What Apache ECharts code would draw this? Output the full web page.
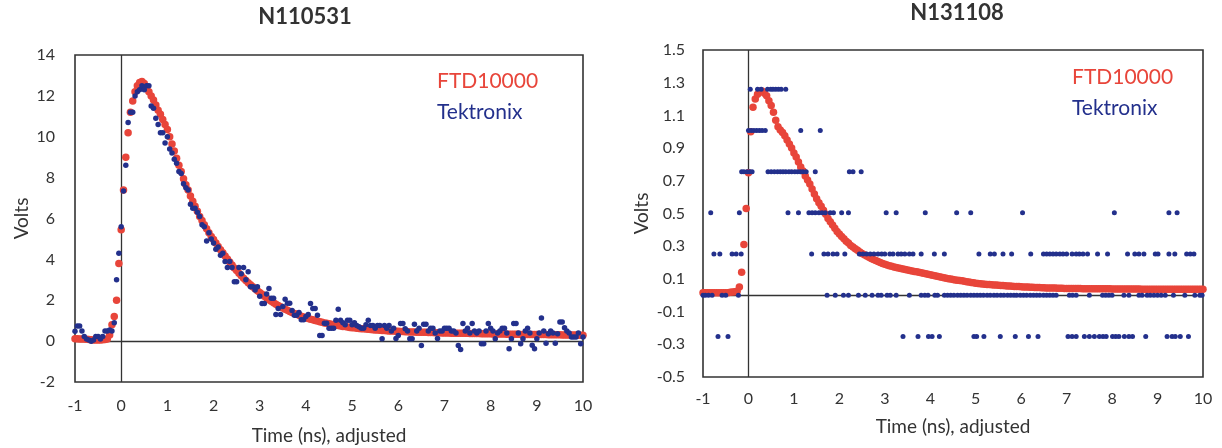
<!DOCTYPE html>
<html><head><meta charset="utf-8">
<script src="https://cdn.jsdelivr.net/npm/echarts@6/dist/echarts.min.js"></script>
<style>html,body{margin:0;padding:0;background:#fff}#c{width:1222px;height:448px}</style>
</head><body><div id="c"></div>
<script>
// ---------- DATA ----------
const seriesNames = ['FTD10000', 'Tektronix'];
const panelTitles = ['N110531', 'N131108'];
const xAxisName = 'Time (ns), adjusted';
const yAxisName = 'Volts';

// sampling grid (ns) for the panel-1 traces and the panel-2 FTD trace
const T_START = -1, T_STEP = 0.05;

// Panel 1 (N110531) FTD10000, volts, one value per 0.05 ns from -1 to 10
const ftd1 = [
 0.12,0.12,0.11,0.1,0.1,0.09,0.08,0.07,0.06,0.05,
 0.05,0.06,0.07,0.08,0.1,0.3,
 0.8,1.2,2.0,3.8,5.45,7.4,9.0,10.2,11.2,11.75,12.2,12.5,12.65,12.7,12.6,12.4,12.2,12.0,11.8,11.55,11.3,11.1,10.85,10.6,10.35,
 10.0,9.65,9.3,8.95,8.6,8.3,7.95,7.65,7.4,7.1,
 6.85,6.6,6.35,6.1,5.9,5.7,5.5,5.3,5.12,4.97,
 4.8,4.63,4.47,4.32,4.17,4.02,3.87,3.72,3.58,3.45,
 3.32,3.2,3.08,2.97,2.86,2.76,2.66,2.56,2.47,2.38,
 2.29,2.2,2.11,2.03,1.95,1.88,1.81,1.74,1.68,1.62,
 1.56,1.51,1.45,1.4,1.35,1.31,1.26,1.22,1.18,1.14,
 1.11,1.07,1.04,1.01,0.98,0.95,0.92,0.89,0.87,0.85,
 0.82,0.8,0.78,0.76,0.74,0.72,0.71,0.69,0.67,0.66,
 0.65,0.63,0.62,0.61,0.6,0.59,0.58,0.57,0.56,0.55,
 0.54,0.53,0.52,0.52,0.51,0.5,0.5,0.49,0.48,0.48,
 0.47,0.47,0.46,0.46,0.45,0.45,0.45,0.44,0.44,0.43,
 0.43,0.43,0.42,0.42,0.42,0.41,0.41,0.41,0.4,0.4,
 0.4,0.4,0.39,0.39,0.39,0.39,0.38,0.38,0.38,0.38,
 0.37,0.37,0.37,0.37,0.37,0.36,0.36,0.36,0.36,0.36,
 0.35,0.35,0.35,0.35,0.35,0.35,0.34,0.34,0.34,0.34,
 0.34,0.34,0.33,0.33,0.33,0.33,0.33,0.33,0.32,0.32,
 0.32,0.32,0.32,0.32,0.31,0.31,0.31,0.31,0.31,0.31,
 0.3,0.3,0.3,0.3,0.3,0.3,0.3,0.29,0.29,0.29
];

// Panel 1 (N110531) Tektronix, volts, one value per 0.05 ns from -1 to 10
const tek1 = [
 0.48,0.74,0.74,0.49,0.23,0.1,0.05,0.0,0.05,0.23,
 0.23,0.1,0.23,0.49,0.49,0.55,
 0.5,0.9,3.0,4.3,5.6,7.35,8.6,10.7,11.2,11.2,12.0,12.2,12.3,12.5,12.3,12.5,12.5,11.5,11.4,10.9,10.6,10.2,10.2,9.7,10.0,
 9.4,9.2,8.9,8.7,8.3,8.2,7.7,7.5,7.4,6.7,
 6.5,6.5,6.3,6.1,5.7,5.6,4.9,5.3,5.0,4.8,
 4.5,4.6,4.2,4.3,3.9,3.6,3.9,3.6,2.9,2.9,
 3.6,3.3,3.6,3.0,3.4,2.66,2.66,2.5,2.66,2.2,
 1.84,1.84,2.3,2.58,2.1,2.1,1.3,1.6,1.3,1.7,
 2.05,1.85,1.85,1.5,1.27,1.27,1.4,1.05,1.05,1.2,
 1.3,1.84,1.6,1.6,1.27,0.28,0.28,0.87,0.87,0.63,
 0.63,0.63,1.02,1.56,1.02,0.9,0.8,1.02,1.02,0.8,
 0.9,0.77,0.7,0.63,0.63,0.8,1.02,0.77,0.77,0.63,
 0.77,0.77,0.12,0.77,0.63,0.77,0.5,0.63,0.13,0.28,
 0.86,0.86,0.6,0.5,0.12,0.12,0.82,0.5,0.63,-0.21,
 0.82,0.82,0.5,0.63,0.63,0.4,0.13,0.5,0.5,0.63,
 0.63,0.63,0.5,0.5,0.4,-0.21,-0.41,0.86,0.5,0.63,
 0.4,0.86,0.5,0.4,0.5,-0.13,-0.13,0.5,0.86,0.63,
 0.5,0.12,0.4,0.5,0.63,0.63,0.4,-0.37,0.12,0.86,
 0.86,0.4,-0.13,0.12,0.5,0.63,0.4,-0.2,-0.37,0.12,
 0.4,1.13,0.5,-0.1,0.36,0.5,0.4,-0.1,0.36,0.94,
 0.94,0.66,0.5,0.4,0.2,0.2,0.2,0.4,-0.13,0.2
];

// Panel 2 (N131108) FTD10000, volts, one value per 0.05 ns from -1 to 10
const ftd2 = [
 0.015,0.015,0.015,0.015,0.015,0.015,0.015,0.015,0.015,0.015,
 0.015,0.015,0.018,0.02,0.022,0.025,
 0.05,0.14,0.31,0.53,0.75,1.0,1.15,1.2,1.23,1.25,1.25,1.235,1.22,1.19,1.16,1.12,1.07,1.03,1.01,0.995,0.975,0.95,0.925,0.9,0.87,
 0.845,0.815,0.785,0.76,0.73,0.705,0.68,0.65,0.62,0.59,
 0.565,0.545,0.52,0.495,0.47,0.45,0.43,0.41,0.39,0.375,
 0.36,0.345,0.33,0.32,0.305,0.295,0.285,0.275,0.265,0.255,
 0.247,0.24,0.232,0.225,0.218,0.212,0.206,0.2,0.194,0.189,
 0.185,0.181,0.177,0.173,0.17,0.167,0.164,0.161,0.158,0.155,
 0.152,0.149,0.146,0.143,0.14,0.137,0.134,0.131,0.128,0.125,
 0.122,0.119,0.116,0.113,0.11,0.107,0.104,0.101,0.099,0.097,
 0.094,0.092,0.09,0.088,0.085,0.083,0.081,0.078,0.076,0.074,
 0.072,0.07,0.069,0.068,0.066,0.065,0.064,0.063,0.062,0.061,
 0.06,0.059,0.058,0.057,0.056,0.055,0.054,0.053,0.053,0.052,
 0.051,0.05,0.05,0.049,0.049,0.048,0.047,0.047,0.046,0.046,
 0.045,0.045,0.045,0.044,0.044,0.043,0.043,0.043,0.042,0.042,
 0.042,0.042,0.041,0.041,0.041,0.041,0.04,0.04,0.04,0.04,
 0.04,0.04,0.039,0.039,0.039,0.039,0.039,0.039,0.039,0.038,
 0.038,0.038,0.038,0.038,0.038,0.038,0.038,0.038,0.038,0.038,
 0.038,0.038,0.037,0.037,0.037,0.037,0.037,0.037,0.037,0.037,
 0.037,0.037,0.037,0.037,0.037,0.037,0.037,0.037,0.037,0.037,
 0.037,0.037,0.037,0.036,0.036,0.036,0.036,0.036,0.036,0.036
];

// Panel 2 (N131108) Tektronix: quantised volt levels and the times (ns) of the samples at each level
const tek2Levels = [-0.252, 0, 0.252, 0.504, 0.756, 1.008, 1.26];
const tek2TimesLvlM025 = [-0.67,-0.45,3.4,3.73,3.96,4.04,4.2,4.96,5.02,5.18,5.54,5.87,6.16,6.37,7.03,7.12,7.21,7.39,7.5,7.61,7.72,7.8,7.87,8.01,8.08,8.15,8.27,8.37,8.45,8.74,9.21,9.32,9.39,9.5,9.68];
const tek2TimesLvl000 = [-1.0,-0.95,-0.88,-0.8,-0.58,-0.5,-0.22,1.73,1.91,2.09,2.2,2.42,2.57,2.72,2.85,2.92,3.05,3.12,3.25,3.54,3.8,3.88,3.95,4.1,4.16,4.31,4.38,4.45,4.52,4.6,4.67,4.74,4.81,4.89,4.96,5.03,5.1,5.17,5.25,5.32,5.4,5.47,5.55,5.62,5.7,5.77,5.84,5.9,5.98,6.05,6.12,6.2,6.27,6.34,6.41,6.49,6.56,6.63,6.7,6.77,7.06,7.13,7.21,7.5,7.79,7.86,7.93,8.0,8.26,8.37,8.59,8.66,8.77,8.84,8.92,9.0,9.08,9.17,9.35,9.6,9.82,9.93,9.98];
const tek2TimesLvl025 = [-0.76,-0.63,-0.36,-0.27,-0.16,1.39,1.66,1.75,1.86,1.95,2.12,2.44,2.52,2.6,2.68,2.76,2.85,2.93,3.0,3.11,3.18,3.29,3.36,3.44,3.54,3.62,3.8,4.09,4.31,5.07,5.32,5.41,5.6,5.79,6.21,6.49,6.56,6.63,6.7,6.77,6.85,6.92,7.0,7.12,7.21,7.28,7.36,7.46,7.68,7.9,8.34,8.5,8.59,8.7,8.95,9.01,9.25,9.38,9.64,9.72,9.8];
const tek2TimesLvl050 = [-0.83,-0.2,0.87,1.1,1.33,1.4,1.47,1.55,1.62,1.69,1.8,1.87,2.05,2.2,3.03,3.25,3.89,4.58,4.89,6.03,8.05,9.25,9.43];
const tek2TimesLvl075 = [-0.15,-0.1,-0.03,0.03,0.08,0.43,0.5,0.57,0.64,0.7,0.76,0.82,0.89,0.95,1.02,1.08,1.14,1.2,1.27,1.47,2.22,2.3,2.48];
const tek2TimesLvl100 = [0.0,0.06,0.12,0.18,0.24,0.3,0.37,1.15,1.58];
const tek2TimesLvl125 = [0.04,0.2,0.28,0.42,0.49,0.54,0.6,0.66,0.72,0.82];

// axis ranges
const xRange = {min: -1, max: 10, interval: 1};
const y1Range = {min: -2, max: 14, interval: 2};
const y2Range = {min: -0.5, max: 1.5, interval: 0.2};

// ---------- BUILD ----------
function onGrid(values) {
  return values.map((v, i) => [+(T_START + i * T_STEP).toFixed(2), v]);
}
function fromLevels(levels, timeLists) {
  const out = [];
  timeLists.forEach((ts, k) => ts.forEach(t => out.push([t, levels[k]])));
  return out;
}
const tek2 = fromLevels(tek2Levels, [tek2TimesLvlM025, tek2TimesLvl000, tek2TimesLvl025, tek2TimesLvl050, tek2TimesLvl075, tek2TimesLvl100, tek2TimesLvl125]);

const RED = '#e8453a', BLUE = '#23308c', INK = '#333333', FONT = 'Lato';

function xAx(g, margin, gap) {
  return {gridIndex: g, type: 'value', min: xRange.min, max: xRange.max, interval: xRange.interval,
    name: xAxisName, nameLocation: 'middle', nameGap: gap,
    nameTextStyle: {fontFamily: FONT, fontSize: 19, color: INK},
    axisLine: {show: false, onZero: false}, axisTick: {show: false}, splitLine: {show: false},
    axisLabel: {fontFamily: FONT, fontSize: 16, color: INK, margin: margin, showMinLabel: true, showMaxLabel: true}};
}
function yAx(g, r, margin, gap, fmt) {
  return {gridIndex: g, type: 'value', min: r.min, max: r.max, interval: r.interval,
    name: yAxisName, nameLocation: 'middle', nameGap: gap,
    nameTextStyle: {fontFamily: FONT, fontSize: 19, color: INK},
    axisLine: {show: false, onZero: false}, axisTick: {show: false}, splitLine: {show: false},
    axisLabel: {fontFamily: FONT, fontSize: 16, color: INK, margin: margin, showMinLabel: true, showMaxLabel: true, formatter: fmt}};
}
function zeroLines(g) {
  return {type: 'scatter', xAxisIndex: g, yAxisIndex: g, data: [], silent: true, z: 1,
    markLine: {silent: true, z: 1, animation: false, symbol: ['none', 'none'], label: {show: false},
      lineStyle: {color: INK, width: 1.3, type: 'solid'}, emphasis: {disabled: true},
      data: [{xAxis: 0}, {yAxis: 0}]}};
}
function dots(g, name, data, color, size, z) {
  return {type: 'scatter', name: name, xAxisIndex: g, yAxisIndex: g, data: data, symbol: 'circle',
    symbolSize: size, itemStyle: {color: color, opacity: 1}, z: z, silent: true, animation: false};
}
function legendAt(left, top) {
  return {orient: 'vertical', left: left, top: top, padding: 0, icon: 'none', itemWidth: 1, itemHeight: 20,
    itemGap: 10, selectedMode: false, textStyle: {fontFamily: FONT, fontSize: 21},
    data: [{name: seriesNames[0], textStyle: {color: RED}}, {name: seriesNames[1], textStyle: {color: BLUE}}]};
}

const chart = echarts.init(document.getElementById('c'), null, {renderer: 'canvas'});
chart.setOption({
  animation: false,
  backgroundColor: '#ffffff',
  title: [
    {text: panelTitles[0], left: 305, top: 6, textAlign: 'center', padding: 0,
     textStyle: {fontFamily: FONT, fontWeight: 'bold', fontSize: 22, color: INK}},
    {text: panelTitles[1], left: 957, top: 2, textAlign: 'center', padding: 0,
     textStyle: {fontFamily: FONT, fontWeight: 'bold', fontSize: 22, color: INK}}
  ],
  legend: [legendAt(431, 71), legendAt(1066, 67)],
  grid: [
    {left: 75, top: 55, width: 508, height: 327, show: true, borderColor: INK, borderWidth: 1.6, outerBoundsMode: 'none'},
    {left: 703, top: 50, width: 500, height: 327, show: true, borderColor: INK, borderWidth: 1.6, outerBoundsMode: 'none'}
  ],
  xAxis: [xAx(0, 16, 44), xAx(1, 14, 40)],
  yAxis: [yAx(0, y1Range, 20, 44, null), yAx(1, y2Range, 18, 52, v => v.toFixed(1))],
  series: [
    zeroLines(0),
    dots(0, seriesNames[0], onGrid(ftd1), RED, 7.5, 2),
    dots(0, seriesNames[1], onGrid(tek1), BLUE, 5.5, 3),
    zeroLines(1),
    dots(1, seriesNames[0], onGrid(ftd2), RED, 7.5, 2),
    dots(1, seriesNames[1], tek2, BLUE, 5, 3)
  ]
});
</script>
</body></html>
